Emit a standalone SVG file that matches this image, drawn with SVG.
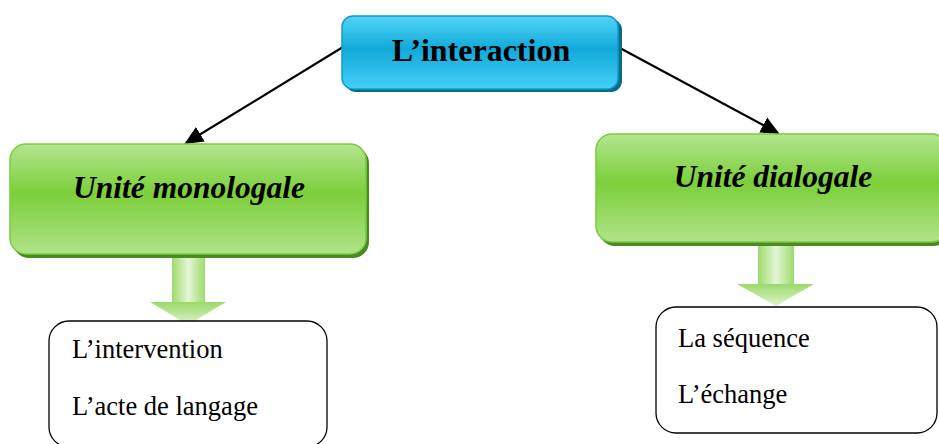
<svg xmlns="http://www.w3.org/2000/svg" width="939" height="444" viewBox="0 0 939 444">
<defs>
<linearGradient id="gBlue" x1="0" y1="0" x2="0" y2="1">
<stop offset="0" stop-color="#52d6f8"/>
<stop offset="0.45" stop-color="#12a9d9"/>
<stop offset="1" stop-color="#45d0f7"/>
</linearGradient>
<linearGradient id="gGreen" x1="0" y1="0" x2="0" y2="1">
<stop offset="0" stop-color="#b3e58f"/>
<stop offset="0.45" stop-color="#7ccf3a"/>
<stop offset="1" stop-color="#b0e38a"/>
</linearGradient>
<linearGradient id="gShaft" x1="0" y1="0" x2="1" y2="0">
<stop offset="0" stop-color="#9edb6c"/>
<stop offset="0.5" stop-color="#e4f6d6"/>
<stop offset="1" stop-color="#9edb6c"/>
</linearGradient>
<linearGradient id="gHead" x1="0" y1="0" x2="0" y2="1">
<stop offset="0" stop-color="#9ad96a"/>
<stop offset="1" stop-color="#dff4cd"/>
</linearGradient>
<marker id="ah" viewBox="0 0 10 10" refX="9" refY="5" markerWidth="8.5" markerHeight="8.5" markerUnits="strokeWidth" orient="auto">
<path d="M0,0.5 L10,5 L0,9.5 z" fill="#000"/>
</marker>
<style>
.sb{fill:#0b6b86}
.sg{fill:#4a8a22}
.nb{fill:url(#gBlue);stroke:#0e9dcb;stroke-width:1.5}
.ng{fill:url(#gGreen);stroke:#79cc3c;stroke-width:1.5}
.box{fill:#fff;stroke:#000;stroke-width:1.3}
text{font-family:'Liberation Serif','Times New Roman',serif;fill:#000}
.t1{font-weight:bold;font-size:32px}
.t2{font-weight:bold;font-style:italic;font-size:31.5px}
.t3{font-size:26.5px}
.ln{stroke:#000;stroke-width:2.2;fill:none;marker-end:url(#ah)}
</style>
</defs>

<g id="connectors">
<line class="ln" x1="343" y1="47" x2="186" y2="143"/>
<line class="ln" x1="618" y1="47" x2="778" y2="133"/>
<g id="blockarrow-left">
<rect x="172" y="255" width="33" height="48" fill="url(#gShaft)"/>
<path d="M150,302 L226,302 L188,325 Z" fill="url(#gHead)"/>
</g>
<g id="blockarrow-right">
<rect x="758" y="245" width="36" height="40" fill="url(#gShaft)"/>
<path d="M737,284 L814,284 L776,306 Z" fill="url(#gHead)"/>
</g>
</g>

<g id="node-interaction">
<rect class="sb" x="345" y="19" width="277" height="73" rx="11"/>
<rect class="nb" x="342" y="16" width="276" height="73" rx="11"/>
<text class="t1" x="481" y="61" text-anchor="middle">L’interaction</text>
</g>

<g id="node-monologale">
<rect class="sg" x="13" y="147" width="356" height="111" rx="16"/>
<rect class="ng" x="10" y="144" width="356" height="110" rx="16"/>
<text class="t2" x="189" y="198" text-anchor="middle">Unité monologale</text>
</g>

<g id="node-dialogale">
<rect class="sg" x="599" y="137" width="350" height="109" rx="16"/>
<rect class="ng" x="596" y="134" width="352" height="108" rx="16"/>
<text class="t2" x="773" y="187" text-anchor="middle">Unité dialogale</text>
</g>

<g id="node-left-list">
<rect class="box" x="49" y="321" width="278" height="126" rx="20"/>
<text class="t3" x="72" y="358">L’intervention</text>
<text class="t3" x="72" y="415">L’acte de langage</text>
</g>

<g id="node-right-list">
<rect class="box" x="656" y="307" width="281" height="126" rx="20"/>
<text class="t3" x="678" y="347">La séquence</text>
<text class="t3" x="678" y="403">L’échange</text>
</g>
</svg>
